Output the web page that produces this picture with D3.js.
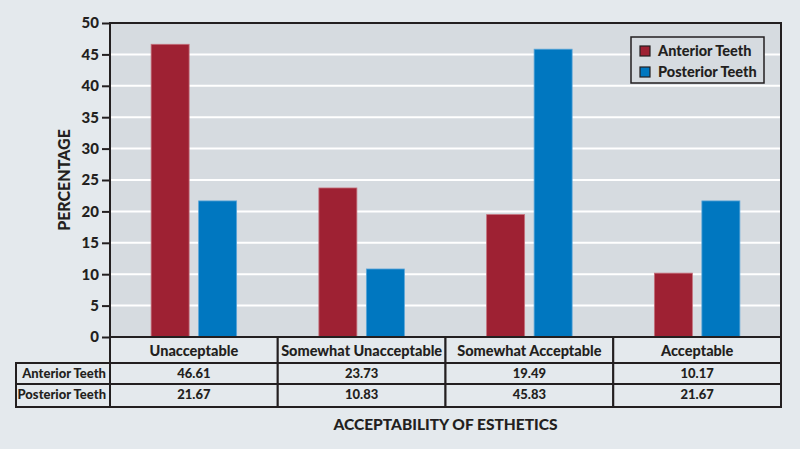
<!DOCTYPE html>
<html><head><meta charset="utf-8">
<script src="https://cdn.jsdelivr.net/npm/d3@7"></script>
<style>
html,body{margin:0;padding:0;background:#e4e9ed;}
svg{display:block;}
text{font-family:"Lato","Open Sans",sans-serif;font-weight:900;fill:#231f20;}
</style></head>
<body>
<svg id="c" width="800" height="449"></svg>
<script>
const categories = ["Unacceptable","Somewhat Unacceptable","Somewhat Acceptable","Acceptable"];
const seriesNames = ["Anterior Teeth","Posterior Teeth"];
const anterior = [46.61,23.73,19.49,10.17];
const posterior = [21.67,10.83,45.83,21.67];
const yTicks = [0,5,10,15,20,25,30,35,40,45,50];
const colors = ["#9e2133","#0077c0"];

const svg = d3.select("#c");
const W=800,H=449;
svg.append("rect").attr("width",W).attr("height",H).attr("fill","#e4e9ed");
const L=110,R=781,T=23,B=337;
const x = d3.scaleBand().domain(categories).range([L,R]);
const xs = d3.scaleBand().domain(seriesNames).range([0,x.bandwidth()]).paddingInner(0.2).paddingOuter(0.866);
const y = d3.scaleLinear().domain([0,50]).range([B,T]);

svg.append("rect").attr("x",L).attr("y",T).attr("width",R-L).attr("height",B-T).attr("fill","#d6dbe0");
// gridlines
svg.append("g").selectAll("line").data(yTicks.filter(d=>d>0&&d<50)).join("line")
  .attr("x1",L).attr("x2",R).attr("y1",d=>y(d)).attr("y2",d=>y(d))
  .attr("stroke","#fff").attr("stroke-width",2);

const data = categories.map((c,i)=>({c, vals:[anterior[i],posterior[i]]}));
const g = svg.append("g");
data.forEach(d=>{
  d.vals.forEach((v,j)=>{
    g.append("rect").attr("x",x(d.c)+xs(seriesNames[j])).attr("width",xs.bandwidth())
      .attr("y",y(v)).attr("height",y(0)-y(v)).attr("fill",colors[j])
      .attr("stroke",j===0?"#c4707c":"#5aa5d8").attr("stroke-width",0.8);
  });
});

// plot border
svg.append("rect").attr("x",L).attr("y",T).attr("width",R-L).attr("height",B-T)
  .attr("fill","none").attr("stroke","#231f20").attr("stroke-width",2);

// y axis
const ya = d3.axisLeft(y).tickValues(yTicks).tickSize(8).tickPadding(3);
const yg = svg.append("g").attr("transform",`translate(${L},0)`).call(ya);
yg.select(".domain").remove();
yg.selectAll(".tick line").attr("stroke","#231f20").attr("stroke-width",2);
yg.selectAll(".tick text").style("font-size","15px").style("font-family","Lato, sans-serif").style("font-weight","900").attr("fill","#231f20");

svg.append("text").attr("transform",`translate(70,${(T+B)/2}) rotate(-90)`).attr("text-anchor","middle")
  .style("font-size","16px").text("PERCENTAGE");

// table
const rowY=[B,363,384,407];
const tableLeft=16;
categories.forEach(c=>{
  svg.append("rect").attr("x",x(c)).attr("y",rowY[0]).attr("width",x.bandwidth()).attr("height",rowY[1]-rowY[0])
    .attr("fill","#e4e9ed").attr("stroke","#231f20").attr("stroke-width",2);
  svg.append("text").attr("x",x(c)+x.bandwidth()/2).attr("y",355.5).attr("text-anchor","middle")
    .style("font-size","14.5px").text(c);
});
const rows=[anterior,posterior];
rows.forEach((vals,r)=>{
  svg.append("rect").attr("x",tableLeft).attr("y",rowY[r+1]).attr("width",L-tableLeft).attr("height",rowY[r+2]-rowY[r+1])
    .attr("fill","#e4e9ed").attr("stroke","#231f20").attr("stroke-width",2);
  svg.append("text").attr("x",L-4).attr("y",rowY[r+1]+15).attr("text-anchor","end")
    .style("font-size","13px").text(seriesNames[r]);
  categories.forEach((c,i)=>{
    svg.append("rect").attr("x",x(c)).attr("y",rowY[r+1]).attr("width",x.bandwidth()).attr("height",rowY[r+2]-rowY[r+1])
      .attr("fill","#e4e9ed").attr("stroke","#231f20").attr("stroke-width",2);
    svg.append("text").attr("x",x(c)+x.bandwidth()/2).attr("y",rowY[r+1]+15).attr("text-anchor","middle")
      .style("font-size","13px").text(vals[i].toFixed(2));
  });
});

svg.append("text").attr("x",(L+R)/2).attr("y",430).attr("text-anchor","middle")
  .style("font-size","15.5px").text("ACCEPTABILITY OF ESTHETICS");

// legend
const lg = svg.append("g").attr("transform","translate(631,37)");
lg.append("rect").attr("width",133).attr("height",46).attr("fill","#d6dbe0").attr("stroke","#231f20").attr("stroke-width",1.5);
seriesNames.forEach((s,i)=>{
  lg.append("rect").attr("x",9).attr("y",9+i*21).attr("width",10).attr("height",10)
    .attr("fill",colors[i]).attr("stroke","#231f20").attr("stroke-width",1.2);
  lg.append("text").attr("x",27).attr("y",18.5+i*21).style("font-size","14.5px").text(s);
});
</script>
</body></html>
